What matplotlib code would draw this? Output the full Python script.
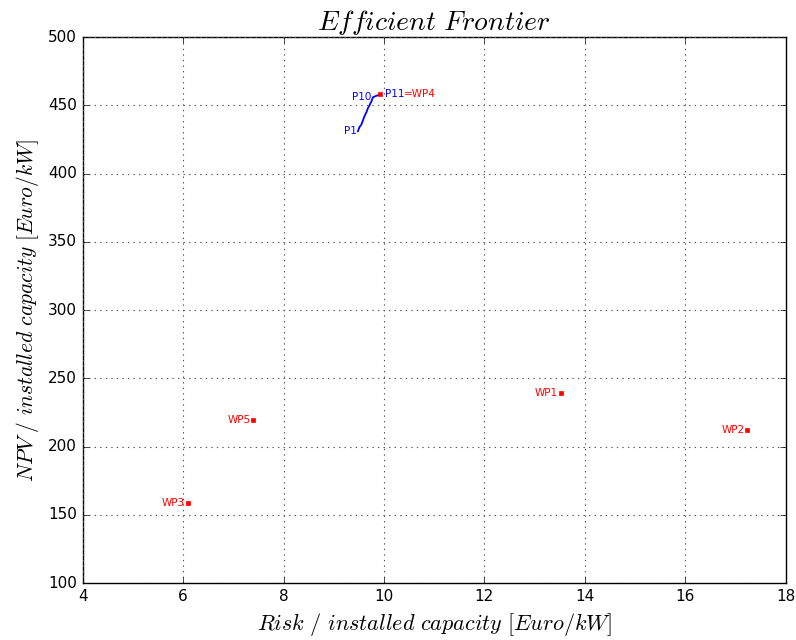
import matplotlib
matplotlib.use("Agg")
import matplotlib.pyplot as plt

# efficient frontier portfolios P1..P11 (risk, NPV per installed kW)
front_risk = [9.48, 9.51, 9.55, 9.58, 9.61, 9.65, 9.68, 9.71, 9.75, 9.78, 9.92]
front_npv  = [431, 434, 436, 439, 442, 445, 448, 450, 453, 456, 458]

# single wind parks
wp_names = ["WP1", "WP2", "WP3", "WP4", "WP5"]
wp_risk  = [13.52, 17.23, 6.09, 9.92, 7.39]
wp_npv   = [239, 212, 158.6, 458, 219.4]

plt.style.use("classic")
fig = plt.figure(figsize=(7.96, 6.4), dpi=100)
ax = fig.add_axes([0.104, 0.089, 0.883, 0.853])

ax.plot(front_risk, front_npv, color="blue", lw=1.3)
ax.plot(wp_risk, wp_npv, "s", color="red", mec="red", ms=3)

ax.text(front_risk[0] - 0.03, front_npv[0], "P1", color="blue",
        fontsize=7.5, ha="right", va="center")
ax.text(front_risk[9] - 0.03, front_npv[9], "P10", color="blue",
        fontsize=7.5, ha="right", va="center")
ax.text(front_risk[10] + 0.1, front_npv[10], "P11", color="blue",
        fontsize=7.5, ha="left", va="center")
ax.text(front_risk[10] + 0.47, front_npv[10], "=WP4", color="red",
        fontsize=7.5, ha="left", va="center")

for name, x, y in zip(wp_names, wp_risk, wp_npv):
    if name == "WP4":
        continue
    ax.text(x - 0.05, y, name, color="red", fontsize=7.5, ha="right", va="center")

ax.set_xlim(4, 18)
ax.set_ylim(100, 500)
ax.grid(True, color="#555555", linestyle=":", linewidth=0.8)
ax.set_title(r"$Efficient\ Frontier$", fontsize=20)
ax.set_xlabel(r"$Risk\ /\ installed\ capacity\ [Euro/kW]$", fontsize=16)
ax.set_ylabel(r"$NPV\ /\ installed\ capacity\ [Euro/kW]$", fontsize=15.5)
ax.tick_params(labelsize=11)

fig.savefig("out.png", dpi=100, facecolor="white")
